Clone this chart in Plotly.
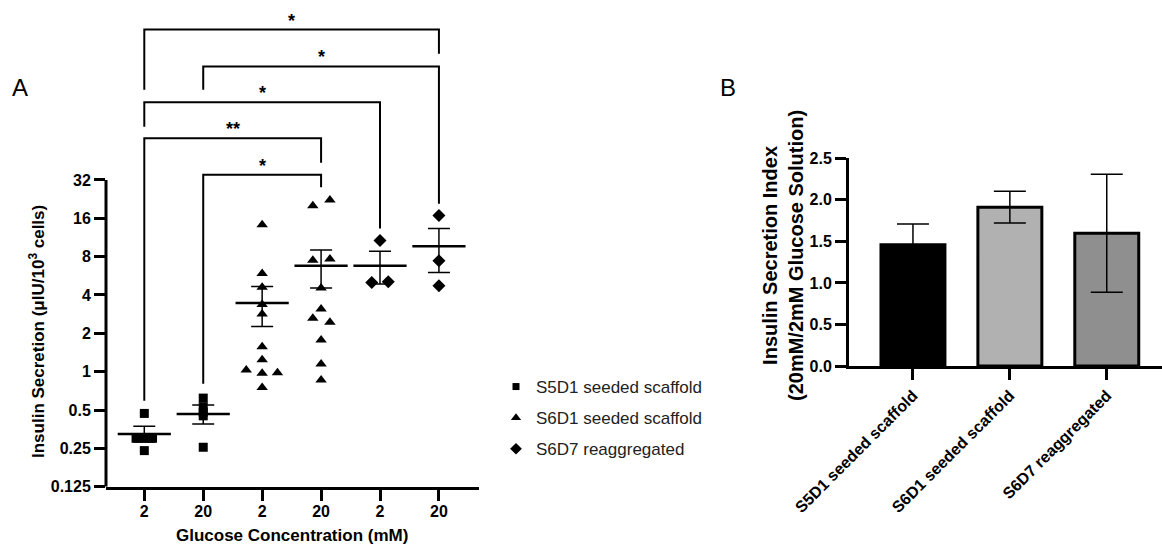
import numpy as np
import plotly.graph_objects as go

# ---------------- Panel A data ----------------
group_ticks = ["2", "20", "2", "20", "2", "20"]
series_names = ["S5D1 seeded scaffold", "S6D1 seeded scaffold", "S6D7 reaggregated"]

# individual points per group and their horizontal jitter (category units)
g1_vals = [0.47, 0.30, 0.30, 0.30, 0.24]
g1_jit = [0, -0.14, 0, 0.14, 0]
g2_vals = [0.62, 0.53, 0.48, 0.45, 0.255]
g2_jit = [0, 0, 0, 0, 0]
g3_vals = [14.2, 5.9, 4.59, 3.36, 2.84, 1.57, 1.24, 1.03, 0.97, 0.98, 0.75]
g3_jit = [0, 0, 0, 0, 0, 0, 0, -0.27, 0, 0.26, 0]
g4_vals = [20.1, 22.3, 7.5, 7.65, 4.54, 3.1, 2.62, 2.44, 1.77, 1.15, 0.86]
g4_jit = [-0.14, 0.15, -0.14, 0.15, 0, 0, -0.14, 0.15, 0, 0, 0]
g5_vals = [10.7, 5.02, 5.08]
g5_jit = [0, -0.14, 0.14]
g6_vals = [16.8, 7.43, 4.73]
g6_jit = [0, 0, 0]

group_means = [0.324, 0.466, 3.46, 6.79, 6.79, 9.63]
group_sem_hi = [0.372, 0.548, 4.67, 9.0, 8.8, 13.3]
group_sem_lo = [0.28, 0.389, 2.26, 4.54, 4.88, 6.0]

# significance brackets
br_left = [0, 1, 0, 0, 1]
br_right = [5, 5, 4, 3, 3]
br_top = [484, 249, 130, 67.8, 35.2]
br_left_end = [163.5, 163.5, 83.7, 0.59, 0.805]
br_right_end = [313, 20.8, 13.3, 43.7, 28.0]
br_label = ["*", "*", "*", "**", "*"]

y_tickvals = [0.125, 0.25, 0.5, 1, 2, 4, 8, 16, 32]
y_ticktext = ["0.125", "0.25", "0.5", "1", "2", "4", "8", "16", "32"]

# ---------------- Panel B data ----------------
b_cats = ["S5D1 seeded scaffold", "S6D1 seeded scaffold", "S6D7 reaggregated"]
b_vals = [1.458, 1.912, 1.599]
b_err = [0.25, 0.19, 0.71]
b_colors = ["#000000", "#b1b1b1", "#8f8f8f"]

FONT = "Liberation Sans, Arial, sans-serif"
W, H = 1162, 544

fig = go.Figure()

groups = [(0, g1_vals, g1_jit, "square", 9), (1, g2_vals, g2_jit, "square", 9),
          (2, g3_vals, g3_jit, "triangle-up", 10), (3, g4_vals, g4_jit, "triangle-up", 10),
          (4, g5_vals, g5_jit, "diamond", 10), (5, g6_vals, g6_jit, "diamond", 10)]
for pos, vals, jit, sym, sz in groups:
    fig.add_trace(go.Scatter(
        x=[pos + j for j in jit], y=vals, mode="markers",
        marker=dict(symbol=sym, size=sz, color="black", line=dict(width=0)),
        showlegend=False, xaxis="x", yaxis="y", cliponaxis=False))

# mean lines
fig.add_trace(go.Scatter(
    x=list(range(6)), y=group_means, mode="markers",
    marker=dict(symbol="line-ew", size=38, line=dict(width=2.5, color="black")),
    showlegend=False, xaxis="x", yaxis="y"))
# SEM error bars
fig.add_trace(go.Scatter(
    x=list(range(6)), y=group_means, mode="markers",
    marker=dict(size=1, opacity=0),
    error_y=dict(type="data", symmetric=False,
                 array=[h - m for h, m in zip(group_sem_hi, group_means)],
                 arrayminus=[m - l for m, l in zip(group_means, group_sem_lo)],
                 color="black", thickness=1.5, width=11),
    showlegend=False, xaxis="x", yaxis="y"))

# brackets
bx, by = [], []
for l, r, t, le, re in zip(br_left, br_right, br_top, br_left_end, br_right_end):
    bx += [l, l, r, r, None]
    by += [le, t, t, re, None]
fig.add_trace(go.Scatter(x=bx, y=by, mode="lines", line=dict(color="black", width=2),
                         showlegend=False, xaxis="x", yaxis="y", hoverinfo="skip"))

# legend entries
for name, sym, sz in zip(series_names, ["square", "triangle-up", "diamond"], [7, 9, 9]):
    fig.add_trace(go.Scatter(x=[None], y=[None], mode="markers", name=name,
                             marker=dict(symbol=sym, size=sz, color="black"),
                             legendgroup=name, xaxis="x", yaxis="y"))

# Panel B bars
fig.add_trace(go.Bar(
    x=list(range(3)), y=b_vals, width=0.66,
    marker=dict(color=b_colors, line=dict(color="black", width=3)),
    error_y=dict(type="data", array=b_err, color="black", thickness=1.5, width=16),
    showlegend=False, xaxis="x2", yaxis="y2"))

# geometry
yA_bot = 1 - 486.7 / H
yA_top = 1 - 5 / H
r0 = np.log10(0.125)
r1 = r0 + np.log10(2) * (486.7 - 5) / 38.35

tickfont = dict(family=FONT, size=16, color="black", weight="bold")

fig.update_layout(
    width=W, height=H, margin=dict(l=0, r=0, t=0, b=0),
    paper_bgcolor="white", plot_bgcolor="white",
    font=dict(family=FONT, color="black"),
    xaxis=dict(domain=[106 / W, 479 / W], range=[-0.65, 5.68], tickvals=list(range(6)),
               ticktext=group_ticks, showline=True, linewidth=3, linecolor="black",
               ticks="outside", ticklen=11, tickwidth=3, tickcolor="black",
               ticklabelstandoff=-3,
               showgrid=False, zeroline=False, tickfont=tickfont, automargin=False),
    yaxis=dict(domain=[yA_bot, yA_top], type="log", range=[r0, r1],
               tickvals=y_tickvals, ticktext=y_ticktext, showline=False,
               ticks="outside", ticklen=11, tickwidth=3, tickcolor="black",
               showgrid=False, zeroline=False, tickfont=tickfont, automargin=False),
    xaxis2=dict(domain=[849 / W, 1.0], range=[-0.66, 2.57], tickvals=list(range(3)),
                ticktext=b_cats, tickangle=-45, showline=True, linewidth=3, linecolor="black",
                ticks="outside", ticklen=11, tickwidth=3, tickcolor="black",
                showgrid=False, zeroline=False, anchor="y2",
                tickfont=dict(family=FONT, size=16, color="black", weight="bold"), automargin=False),
    yaxis2=dict(domain=[1 - 366 / H, 1 - 158.3 / H], range=[0, 2.5], tickvals=[0, 0.5, 1, 1.5, 2, 2.5],
                ticktext=["0.0", "0.5", "1.0", "1.5", "2.0", "2.5"], anchor="x2",
                showline=True, linewidth=3, linecolor="black",
                ticks="outside", ticklen=11, tickwidth=3, tickcolor="black",
                showgrid=False, zeroline=False, tickfont=tickfont, automargin=False),
    legend=dict(x=496 / W, xanchor="left", y=1 - 418 / H, yanchor="middle",
                font=dict(family=FONT, size=17, color="#222"), tracegroupgap=6,
                traceorder="grouped", bgcolor="rgba(0,0,0,0)"),
    showlegend=True,
)

# y-axis line of panel A (only spans the tick range)
fig.add_shape(type="line", xref="x domain", x0=0, x1=0, yref="y", y0=0.125, y1=32,
              line=dict(color="black", width=3))

annos = []
for l, r, t, lab in zip(br_left, br_right, br_top, br_label):
    annos.append(dict(x=(l + r) / 2, y=np.log10(t), xref="x", yref="y", text=lab,
                      showarrow=False, xanchor="center", yanchor="middle", yshift=9,
                      font=dict(family=FONT, size=18, color="black", weight="bold")))
txt = [
    (20, 88, "A", 0, dict(size=24)),
    (728, 88, "B", 0, dict(size=24)),
    (37, 332, "Insulin Secretion (μIU/10<sup>3</sup> cells)", -90, dict(size=17, weight="bold")),
    (292, 535, "Glucose Concentration (mM)", 0, dict(size=17, weight="bold")),
    (783, 256, "Insulin Secretion Index<br>(20mM/2mM Glucose Solution)", -90, dict(size=20, weight="bold")),
]
for px, py, t, ang, f in txt:
    annos.append(dict(x=px / W, y=1 - py / H, xref="paper", yref="paper", text=t,
                      textangle=ang, showarrow=False, xanchor="center", yanchor="middle",
                      font=dict(family=FONT, color="black", **f)))
fig.update_layout(annotations=annos)

fig.write_html("out.html", config={"displayModeBar": False},
               post_script="document.body.style.margin='0';")
